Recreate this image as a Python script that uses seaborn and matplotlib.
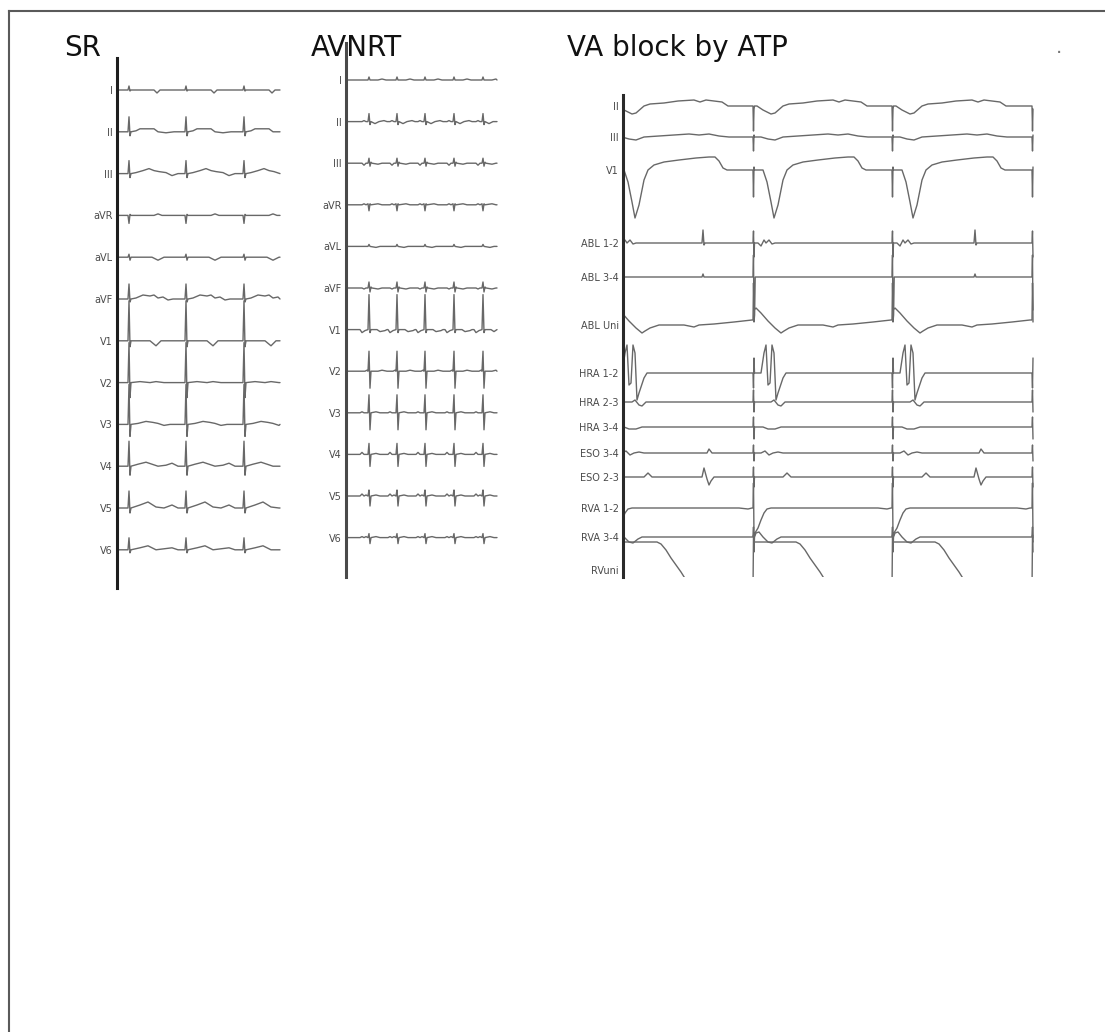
import matplotlib

matplotlib.use("Agg")

import matplotlib.pyplot as plt
import pandas as pd
import seaborn as sns

W, H = 1105, 1032

# ---- SR: 12-lead surface ECG (time in px-samples, amplitude in px) ----
SR_LEADS = ["I", "II", "III", "aVR", "aVL", "aVF", "V1", "V2", "V3", "V4", "V5", "V6"]
SR_BEATS = [11, 68, 126]
SR_END = 163
SR_SHAPES = {
    "I": [(0, 0), (1, 4), (2, -1), (3, 0), (26, 0), (29, -3), (32, 0)],
    "II": [(0, 0), (1, 15), (2, -4), (3, 0), (8, 1), (12, 3), (26, 3), (30, 0), (38, -1), (46, 0)],
    "III": [(0, 0), (1, 13), (2, -4), (3, 0), (8, 1), (15, 3), (21, 5), (26, 3), (31, 2), (38, 1), (44, -2), (50, 0)],
    "aVR": [(0, 0), (1, -8), (2, 1), (3, 0), (26, 0), (30, 1.5), (34, 0)],
    "aVL": [(0, 0), (1, 3), (2, -3), (3, 0), (24, 0), (30, -3), (36, 0)],
    "aVF": [(0, 0), (1, 15), (2, -3), (3, 0), (8, 1), (15, 4), (22, 3), (26, 4), (30, 1), (35, 2), (40, -1), (45, 0)],
    "V1": [(0, 0), (1, 40), (2, -6), (3, 0), (22, 0), (28, -5), (33, 0)],
    "V2": [(0, 0), (1, 40), (2, -15), (3, 0), (12, 1), (22, 0), (28, 1), (36, 0)],
    "V3": [(0, 0), (1, 40), (2, -12), (3, 0), (10, 1), (18, 3), (25, 2), (30, 1), (36, -1), (42, 0)],
    "V4": [(0, 0), (1, 25), (2, -9), (3, 0), (10, 2), (18, 4), (24, 2), (30, 0), (38, 1), (44, 3), (50, 0)],
    "V5": [(0, 0), (1, 17), (2, -5), (3, 0), (12, 3), (20, 6), (28, 1), (36, 0), (44, 3), (50, 0)],
    "V6": [(0, 0), (1, 12), (2, -3), (3, 0), (12, 2), (20, 4), (28, 0), (44, 2), (50, 0)],
}

# ---- AVNRT: 12-lead surface ECG during tachycardia ----
AVNRT_LEADS = SR_LEADS
AVNRT_BEATS = [22, 50, 78, 107, 136]
AVNRT_END = 151
AVNRT_SHAPES = {
    "I": [(0, 0), (1, 3), (2, 0), (10, 0), (14, 1), (18, 0)],
    "II": [(-6, 0), (-4, 1), (-2, 0), (0, 0), (1, 8), (2, -3), (3, 0), (7, -2), (11, 0), (16, 1), (19, 0)],
    "III": [(-6, 0), (-4, -2), (-2, 0), (0, 0), (1, 5), (2, -3), (3, 1), (4, 0), (10, -1), (14, 0)],
    "aVR": [(-6, 0), (-4, 1), (-2, 0), (0, 1), (1, -6), (2, 1), (3, 0), (10, 1), (14, 0)],
    "aVL": [(0, 0), (1, 2), (2, 0), (8, -1), (12, 0)],
    "aVF": [(-6, 0), (-4, -1), (-2, 0), (0, 0), (1, 6), (2, -4), (3, 1), (4, 0), (10, -1), (14, 0)],
    "V1": [(-8, 0), (-6, -3), (-3, -1), (0, 0), (1, 35), (2, -3), (3, 0), (9, 0), (12, -2), (17, -1), (19, 0)],
    "V2": [(-3, 0), (-1, 1), (0, 0), (1, 20), (2, -17), (3, 0), (10, 0), (14, 1), (19, 0)],
    "V3": [(-8, 0), (-6, 1), (-4, 0), (0, 0), (1, 18), (2, -17), (3, 0), (8, 1), (12, 0)],
    "V4": [(-8, 0), (-6, 2), (-4, 0), (0, 0), (1, 11), (2, -12), (3, 0), (8, 1), (12, 0)],
    "V5": [(-8, 0), (-6, 2), (-4, 0), (-2, 1), (0, 0), (1, 6), (2, -10), (3, 0), (8, 1), (12, 0)],
    "V6": [(-8, 0), (-6, 1), (-4, 0), (-2, 1), (0, 0), (1, 4), (2, -6), (3, 0), (8, 1), (12, 0)],
}

# ---- VA block by ATP: intracardiac recording ----
VA_CHANNELS = ["II", "III", "V1", "ABL 1-2", "ABL 3-4", "ABL Uni", "HRA 1-2", "HRA 2-3",
               "HRA 3-4", "ESO 3-4", "ESO 2-3", "RVA 1-2", "RVA 3-4", "RVuni"]
VA_V_EVENTS = [-9, 130, 269, 409]
VA_A_EVENTS = [79, 351]
VA_END = 410
VA_V_SHAPES = {
    "II": [(0, 0), (0.5, -25), (1, -3), (1.5, 0), (4, 0), (10, -4), (18, -8), (22, -7), (30, 0), (36, 2),
           (50, 3), (64, 5), (80, 6), (86, 4), (92, 6), (100, 5), (108, 4), (114, 0)],
    "III": [(0, 0), (0.5, -14), (1, 2), (1.5, 0), (8, 0), (15, -2), (22, -3), (30, 0), (45, 1), (60, 2),
            (75, 3), (85, 2), (95, 3), (105, 1), (115, 0)],
    "V1": [(0, 0), (0.5, -27), (1, 3), (1.5, 0), (10, 0), (14, -12), (18, -32), (21, -48), (25, -35),
           (30, -10), (34, 0), (40, 5), (50, 8), (65, 10), (82, 12), (95, 13), (101, 13), (105, 9),
           (109, 2), (113, 0)],
    "ABL 1-2": [(0, 0), (0.5, 12), (1, -14), (1.5, 0), (5, 0), (8, -3), (11, 3), (13, 0), (16, 3),
                (19, -1), (22, 0)],
    "ABL 3-4": [(0, 0), (0.5, 22), (1, -45), (1.6, -38), (2.2, 0)],
    "ABL Uni": [(0, 5), (0.5, 42), (1, 15), (3, 17), (8, 12), (15, 4), (22, -3), (28, -8), (31, -6),
                (36, -3), (45, 0), (70, 0), (80, -2), (85, 0), (100, 1), (120, 3), (138, 5)],
    "HRA 1-2": [(0, 0), (0.5, -15), (1, 15), (1.5, 0), (8, 0), (11, 20), (13, 28), (15, -12), (17, -10),
                (19, 28), (21, 20), (23, -27), (25, -20), (30, -5), (33, 0)],
    "HRA 2-3": [(0, 0), (0.5, 12), (1, -10), (1.5, 0), (18, 0), (21, 2), (25, -3), (28, -4), (32, 0)],
    "HRA 3-4": [(0, 0), (0.5, 10), (1, -12), (1.5, 0), (10, 0), (15, -2), (22, -2), (28, 0)],
    "ESO 3-4": [(0, 0), (0.5, 8), (1, -8), (1.5, 0), (8, 0), (12, 2), (16, -2), (20, 0), (25, 1), (30, 0)],
    "ESO 2-3": [(0, 0), (0.5, 10), (1, -10), (1.5, 0), (30, 0), (34, 4), (38, 0)],
    "RVA 1-2": [(0, 0), (0.5, 25), (1, -30), (2, -25), (5, -20), (8, -12), (11, -5), (14, -1), (18, 0),
                (125, 0), (134, -1), (138, 0)],
    "RVA 3-4": [(0, 0), (0.5, 10), (1, -15), (1.5, 0), (3, 4), (6, 5), (10, 0), (15, -5), (19, -6),
                (24, -2), (28, 0)],
    "RVuni": [(0, -20), (0.5, 35), (1, 28), (43, 28), (47, 26), (52, 20), (57, 12), (62, 5), (67, -2),
              (72, -10), (77, -20), (138, -20)],
}
VA_A_SHAPES = {
    "ABL 1-2": [(0, 0), (1, 13), (2, -2), (3, 0)],
    "ABL 3-4": [(0, 0), (1, 3), (2, 0)],
    "ESO 3-4": [(5, 0), (7, 4), (10, 0)],
    "ESO 2-3": [(0, 0), (2, 9), (5, -2), (7, -8), (9, -4), (12, 0)],
}

# ---- layout (pixels) ----
SR_BOX = (117, 58, 283, 588)       # left, top, right, bottom
AVNRT_BOX = (346, 43, 500, 577)
VA_BOX = (623, 95, 1034, 577)
SR_LANES = [32 + 41.8 * i for i in range(12)]
AVNRT_LANES = [37 + 41.6 * i for i in range(12)]
VA_LANES = [11, 42, 75, 148, 182, 230, 278, 307, 332, 358, 382, 413, 442, 475]

TRACE = "#686868"


def build_trace(parts, t_end, pad_ends=True):
    """Places beat shapes at their event times and joins them into one polyline."""
    pts = []
    for times, shape in parts:
        for t in times:
            pts += [(t + dt, a) for dt, a in shape]
    pts.sort(key=lambda p: p[0])
    if pad_ends:
        pts = [(0, 0)] + pts + [(t_end, 0)]
    return [p for p in pts if p[0] <= t_end]


def panel_frame(labels, lanes, traces):
    rows = []
    for lead, lane in zip(labels, lanes):
        for t, a in traces[lead]:
            rows.append({"lead": lead, "t": t, "y": lane - a})
    return pd.DataFrame(rows)


def draw_panel(fig, box, labels, lanes, df, bar_color):
    left, top, right, bottom = box
    ax = fig.add_axes([left / W, 1 - bottom / H, (right - left) / W, (bottom - top) / H])
    sns.lineplot(data=df, x="t", y="y", units="lead", estimator=None, sort=False,
                 color=TRACE, linewidth=1.0, ax=ax)
    ax.set_xlim(0, right - left)
    ax.set_ylim(bottom - top, 0)
    ax.set(xlabel="", ylabel="")
    ax.set_xticks([])
    ax.set_yticks(lanes)
    ax.set_yticklabels(labels, fontsize=7, color="#4a4a4a")
    ax.tick_params(axis="y", length=0, pad=3)
    for side in ["top", "right", "bottom"]:
        ax.spines[side].set_visible(False)
    ax.spines["left"].set_linewidth(2.2)
    ax.spines["left"].set_color(bar_color)
    ax.patch.set_alpha(0)
    return ax


sns.set_style("white")
plt.rcParams["font.family"] = ["DejaVu Sans"]

fig = plt.figure(figsize=(W / 100, H / 100), dpi=100)

# outer frame: only top and left edges are visible
frame = fig.add_axes([8.5 / W, 0, 1 - 8.5 / W, 1 - 10.5 / H])
frame.set_xticks([])
frame.set_yticks([])
for side in ["right", "bottom"]:
    frame.spines[side].set_visible(False)
for side in ["top", "left"]:
    frame.spines[side].set_linewidth(1.5)
    frame.spines[side].set_color("#5a5a5a")
frame.set_zorder(-1)

sr_traces = {lead: build_trace([(SR_BEATS, SR_SHAPES[lead])], SR_END) for lead in SR_LEADS}
draw_panel(fig, SR_BOX, SR_LEADS, SR_LANES, panel_frame(SR_LEADS, SR_LANES, sr_traces), "#1e1e1e")

av_traces = {lead: build_trace([(AVNRT_BEATS, AVNRT_SHAPES[lead])], AVNRT_END) for lead in AVNRT_LEADS}
draw_panel(fig, AVNRT_BOX, AVNRT_LEADS, AVNRT_LANES,
           panel_frame(AVNRT_LEADS, AVNRT_LANES, av_traces), "#4a4a4a")

va_traces = {}
for ch in VA_CHANNELS:
    parts = [(VA_V_EVENTS, VA_V_SHAPES[ch])]
    if ch in VA_A_SHAPES:
        parts.append((VA_A_EVENTS, VA_A_SHAPES[ch]))
    va_traces[ch] = build_trace(parts, VA_END, pad_ends=False)
draw_panel(fig, VA_BOX, VA_CHANNELS, VA_LANES, panel_frame(VA_CHANNELS, VA_LANES, va_traces), "#2a2a2a")

title_font = dict(fontsize=20, family=["DejaVu Sans"], va="baseline", color="#111111")
fig.text(64 / W, 1 - 56 / H, "SR", **title_font)
fig.text(311 / W, 1 - 56 / H, "AVNRT", **title_font)
fig.text(567 / W, 1 - 56 / H, "VA block by ATP", **title_font)
fig.text(1056 / W, 1 - 53 / H, ".", fontsize=14, color="#777777")

fig.savefig("out.png", dpi=100)
plt.close(fig)
